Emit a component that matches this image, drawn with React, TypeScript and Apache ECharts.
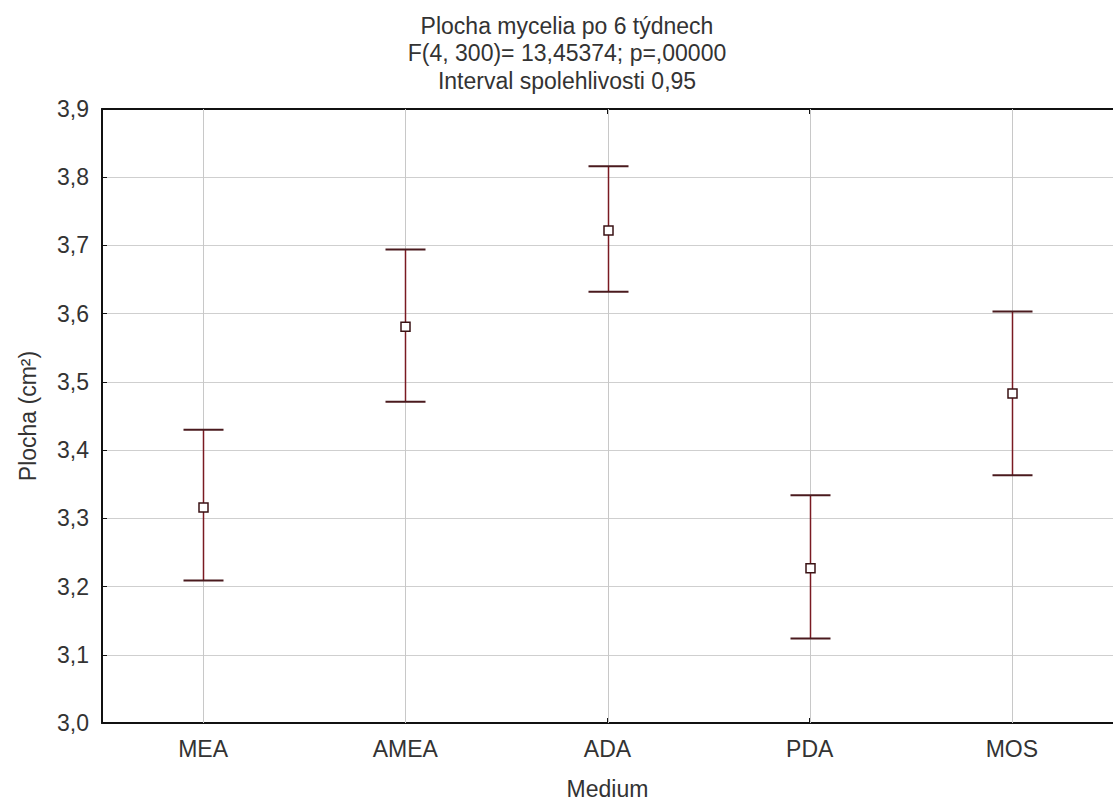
import React, { useEffect, useRef } from "react";
import * as echarts from "echarts";

const categories = ["MEA", "AMEA", "ADA", "PDA", "MOS"];
const means = [3.316, 3.581, 3.722, 3.227, 3.483];
const lower = [3.209, 3.471, 3.632, 3.124, 3.363];
const upper = [3.43, 3.694, 3.816, 3.334, 3.603];
const yTicksMin = 3.0;
const yTicksMax = 3.9;
const yStep = 0.1;
const titleLines = [
  "Plocha mycelia po 6 týdnech",
  "F(4, 300)= 13,45374; p=,00000",
  "Interval spolehlivosti 0,95",
];
const xName = "Medium";
const yName = "Plocha (cm²)";

const FONT = "'Liberation Sans', Arial, sans-serif";
const FS = 23;
const TXT = "#333333";

export default function App() {
  const ref = useRef<HTMLDivElement>(null);
  useEffect(() => {
    if (!ref.current) return;
    const chart = echarts.init(ref.current, null, { renderer: "svg" });
    const data = categories.map((c, i) => [i, lower[i], upper[i], means[i]]);
    chart.setOption({
      animation: false,
      backgroundColor: "#ffffff",
      textStyle: { fontFamily: FONT },
      graphic: [
        {
          type: "text",
          x: 567,
          y: 12,
          style: {
            text: titleLines.join("\n"),
            textAlign: "center",
            textVerticalAlign: "top",
            font: `${FS}px ${FONT}`,
            lineHeight: 27.5,
            fill: TXT,
          },
        },
      ],
      grid: { left: 102, top: 109, width: 1017, height: 618, show: false },
      xAxis: [
        {
          type: "category",
          data: categories,
          position: "bottom",
          name: xName,
          nameLocation: "middle",
          nameGap: 54,
          nameTextStyle: { fontSize: FS, color: TXT, fontFamily: FONT },
          axisLine: { show: true, lineStyle: { color: "#111", width: 2 } },
          axisTick: { show: true, inside: true, alignWithLabel: true, length: 5, lineStyle: { color: "#111" } },
          axisLabel: { fontSize: FS, color: TXT, margin: 14, fontFamily: FONT },
          splitLine: { show: false },
        },
        {
          type: "category",
          data: categories,
          position: "top",
          axisLine: { show: true, lineStyle: { color: "#111", width: 2 } },
          axisTick: { show: true, inside: true, alignWithLabel: true, length: 5, lineStyle: { color: "#111" } },
          axisLabel: { show: false },
          splitLine: { show: false },
        },
      ],
      yAxis: {
        type: "value",
        min: yTicksMin,
        max: yTicksMax,
        interval: yStep,
        name: yName,
        nameLocation: "middle",
        nameRotate: 90,
        nameGap: 63,
        nameTextStyle: { fontSize: FS, color: TXT, fontFamily: FONT },
        axisLine: { show: true, lineStyle: { color: "#111", width: 2 } },
        axisTick: { show: true, inside: true, length: 5, lineStyle: { color: "#111" } },
        axisLabel: {
          fontSize: FS,
          color: TXT,
          margin: 13,
          fontFamily: FONT,
          formatter: (v: number) => v.toFixed(1).replace(".", ","),
        },
        splitLine: { show: true, lineStyle: { color: "#cfcfcf", width: 1 } },
      },
      series: [
        {
          type: "custom",
          xAxisIndex: 0,
          yAxisIndex: 0,
          data,
          renderItem: (params: any, api: any) => {
            const idx = api.value(0);
            const lo = api.coord([idx, api.value(1)]);
            const hi = api.coord([idx, api.value(2)]);
            const m = api.coord([idx, api.value(3)]);
            const cs = params.coordSys;
            const x = Math.round(lo[0]) + 0.5;
            const capW = 20;
            const sq = 9;
            return {
              type: "group",
              children: [
                {
                  type: "line",
                  shape: { x1: x, y1: cs.y, x2: x, y2: cs.y + cs.height },
                  style: { stroke: "#c8c8c8", lineWidth: 1 },
                },
                {
                  type: "line",
                  shape: { x1: x, y1: hi[1], x2: x, y2: lo[1] },
                  style: { stroke: "#7a1a22", lineWidth: 1.5 },
                },
                {
                  type: "line",
                  shape: { x1: x - capW, y1: hi[1], x2: x + capW, y2: hi[1] },
                  style: { stroke: "#4a1a1e", lineWidth: 2 },
                },
                {
                  type: "line",
                  shape: { x1: x - capW, y1: lo[1], x2: x + capW, y2: lo[1] },
                  style: { stroke: "#4a1a1e", lineWidth: 2 },
                },
                {
                  type: "rect",
                  shape: { x: x - sq / 2, y: m[1] - sq / 2, width: sq, height: sq },
                  style: { fill: "#ffffff", stroke: "#3a1214", lineWidth: 1.5 },
                },
              ],
            };
          },
        },
      ],
    });
    return () => chart.dispose();
  }, []);
  return (
    <div
      ref={ref}
      style={{ position: "fixed", left: 0, top: 0, width: 1113, height: 805 }}
    />
  );
}
